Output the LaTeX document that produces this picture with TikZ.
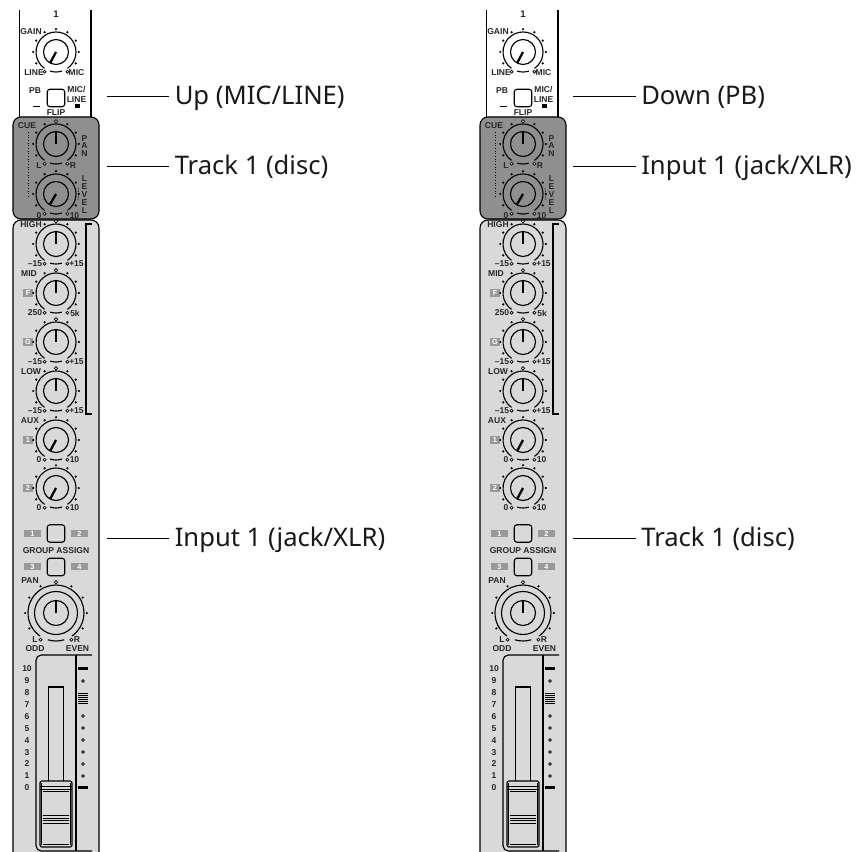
\documentclass[tikz,border=0pt]{standalone}
\usepackage{fontspec}
\setmainfont{Noto Sans}
\newfontfamily\smallfont{Liberation Sans}
\definecolor{panel}{gray}{0.85}
\definecolor{darkpanel}{gray}{0.56}
\definecolor{tagc}{gray}{0.6}
\tikzset{
  lab/.style={font=\smallfont\bfseries\fontsize{6.4}{6.4}\selectfont,inner sep=0pt,text=black!85},
  tag/.style={fill=tagc,minimum width=#1,minimum height=6.5pt,inner sep=0pt,text=white,font=\smallfont\bfseries\fontsize{5.5}{5.5}\selectfont},
  callout/.style={anchor=base west,inner sep=0pt,font=\fontsize{19.2}{19.2}\selectfont,text=black!90},
  wire/.style={line width=0.6pt},
  outl/.style={line width=0.85pt,draw=black},
  btn/.style={draw=black,line width=0.85pt,rounded corners=2.2pt,minimum size=13.2pt,inner sep=0pt,fill=panel}
}
% \knob x y pointer-angle r detent(0/1)
\newcommand{\knob}[5]{%
  \begin{scope}[shift={(#1,#2)},yscale=-1]
    \draw[line width=0.85pt] (0,0) circle[radius=12.5];
    \draw[line width=0.85pt] (-55:#4) arc[start angle=-55,end angle=235,radius=#4];
    \draw[line width=0.85pt] (-107:#4) arc[start angle=-107,end angle=-73,radius=#4];
    \draw[line width=1.7pt] (0,0) -- (#3:12);
    \pgfmathsetmacro{\rt}{#4+2.8}
    \foreach \a in {60,30,0,-30,120,150,180,210} \fill (\a:\rt) circle[radius=1.2];
    \ifnum#5=1 \draw[line width=0.55pt,fill=white] (90:\rt) circle[radius=1.6];
    \else \fill (90:\rt) circle[radius=1.2]; \fi
    \draw[line width=0.55pt,fill=white] (-120:\rt) circle[radius=1.5];
    \draw[line width=0.55pt,fill=white] (-60:\rt) circle[radius=1.5];
  \end{scope}}
\newcommand{\stripat}[2]{%
\begin{scope}[shift={(#1,0)}]
  % panels
  \fill[white] (19.5,10) rectangle (91,118);
  \draw[outl] (19.5,10) -- (19.5,118);
  \draw[outl] (91,10) -- (91,118);
  \fill[panel,rounded corners=6] (13,860) -- (13,220) -- (99,220) -- (99,860) -- cycle;
  \draw[outl,rounded corners=6] (13,860) -- (13,220) -- (99,220) -- (99,860);
  \draw[outl,fill=darkpanel,rounded corners=6] (13,117) rectangle (99,219);
  % top
  \node[lab,font=\smallfont\bfseries\fontsize{7.2}{7.2}\selectfont] (#2n) at (56,14.5) {1};
  \node[lab] (#2gain) at (31,32) {GAIN};
  \knob{56}{52}{242}{20}{0}
  \node[lab] (#2line) at (34,72.5) {LINE};
  \node[lab] (#2mic) at (76.5,72.5) {MIC};
  \node[lab] (#2pb) at (35,91) {PB};
  \node[btn,fill=white] (#2flip) at (56,98) {};
  \node[lab,align=center] (#2ml) at (76.5,94.5) {MIC/\\[1pt]LINE};
  \node[lab] (#2fl) at (56,113) {FLIP};
  \fill (33,106) rectangle (40,107.5);
  \fill (75,104) rectangle (80,108);
  % cue
  \node[lab] (#2cue) at (27,126) {CUE};
  \draw[line width=0.5pt,dash pattern=on 0.8pt off 1.2pt] (28.5,132) -- (28.5,198);
  \knob{56}{144}{90}{20}{1}
  \knob{56}{194}{240}{20}{0}
  \node[lab] (#2l) at (39,166) {L};
  \node[lab] (#2r) at (73,166) {R};
  \node[lab,align=center] (#2pan) at (84.5,146) {P\\[-0.5pt]A\\[-0.5pt]N};
  \node[lab,align=center] (#2lev) at (84.5,194.5) {L\\[-0.5pt]E\\[-0.5pt]V\\[-0.5pt]E\\[-0.5pt]L};
  \draw[line width=0.4pt,dash pattern=on 0.6pt off 0.6pt] (78,188) to[bend left=15] (78,200);
  \node[lab] (#2z) at (39,215.5) {0};
  \node[lab] (#2t) at (74.5,215.5) {10};
  % EQ
  \node[lab] (#2high) at (31,225) {HIGH};
  \knob{56}{244}{90}{20}{1}
  \node[lab] (#2a) at (35,264) {–15};
  \node[lab] (#2b) at (76.5,264) {+15};
  \node[lab] (#2mid) at (29,274) {MID};
  \node[tag=7pt] (#2f) at (28,293) {F};
  \knob{56}{293}{90}{20}{1}
  \node[lab] (#2c) at (35,313) {250};
  \node[lab] (#2d) at (75,313) {5k};
  \node[tag=7pt] (#2g) at (28,342) {G};
  \knob{56}{342}{90}{20}{1}
  \node[lab] (#2e) at (35,362) {–15};
  \node[lab] (#2h) at (76.5,362) {+15};
  \node[lab] (#2low) at (31,372) {LOW};
  \knob{56}{391}{90}{20}{1}
  \node[lab] (#2i) at (35,411) {–15};
  \node[lab] (#2j) at (76.5,411) {+15};
  \draw[outl] (92,224) -- (86,224) -- (86,414) -- (92,414);
  % aux
  \node[lab] (#2aux) at (30,421) {AUX};
  \node[tag=7pt] (#2one) at (28,440) {1};
  \knob{56}{440}{242}{20}{0}
  \node[lab] (#2k) at (39,460) {0};
  \node[lab] (#2m) at (74.5,460) {10};
  \node[tag=7pt] (#2two) at (28,488) {2};
  \knob{56}{488}{242}{20}{0}
  \node[lab] (#2o) at (39,508) {0};
  \node[lab] (#2p) at (74.5,508) {10};
  % group
  \node[btn] (#2ba) at (56,533.5) {};
  \node[btn] (#2bb) at (56,567) {};
  \node[tag=13pt,minimum height=5pt] (#2g1) at (32.5,533.5) {1};
  \node[tag=13pt,minimum height=5pt] (#2g2) at (79.5,533.5) {2};
  \node[tag=13pt,minimum height=5pt] (#2g3) at (32.5,566.5) {3};
  \node[tag=13pt,minimum height=5pt] (#2g4) at (79.5,566.5) {4};
  \node[lab] (#2ga) at (56,551) {GROUP ASSIGN};
  \node[lab] (#2pn) at (30,581) {PAN};
  % big pan
  \begin{scope}[shift={(56,613)}]
    \draw[line width=0.85pt] (0,0) circle[radius=21.5];
  \end{scope}
  \knob{56}{613}{90}{28}{1}
  \node[lab] (#2ll) at (35,640) {L};
  \node[lab] (#2rr) at (77,640) {R};
  \node[lab] (#2odd) at (35,648.5) {ODD};
  \node[lab] (#2even) at (77.5,648.5) {EVEN};
  % fader
  \draw[outl,rounded corners=4] (92,655) -- (36,655) -- (36,851) -- (92,851);
  \draw[outl] (76,655) -- (76,851);
  \foreach \v [count=\i from 0] in {10,9,8,7,6,5,4,3,2,1,0} {
    \node[lab] (#2s\i) at (27,669+\i*11.87) {\v};
  }
  \fill (78,667) rectangle (88,670);
  \fill (78,786) rectangle (88,789);
  \foreach \y in {681,716,728,740,752,764,776} \draw[line width=0.55pt] (83,\y) circle[radius=1.3];
  \foreach \y in {693.5,695.5,697.5,699.5,701.5,703.5} \draw[line width=0.6pt] (78,\y) -- (88,\y);
  \draw[outl] (48.5,781) -- (48.5,687) -- (63.5,687) -- (63.5,781);
  \draw[outl,fill=panel,rounded corners=1.5] (40,781) rectangle (72,847);
  \draw[line width=0.5pt] (41.7,783) -- (41.7,845);
  \draw[line width=0.5pt] (70.3,783) -- (70.3,845);
  \draw[line width=0.9pt] (40,786.5) -- (72,786.5);
  \draw[line width=0.6pt] (40,789) -- (72,789);
  \draw[line width=0.5pt] (43,791.5) -- (69,791.5);
  \foreach \y in {815,818,820.5,823} \draw[line width=0.6pt] (43,\y) -- (69,\y);
  \draw[line width=0.5pt] (43,844.5) -- (69,844.5);
\end{scope}}
\begin{document}
\begin{tikzpicture}[x=0.75pt,y=-0.75pt]
\useasboundingbox (0,0) rectangle (857,852);
\fill[white] (0,0) rectangle (857,852);
\stripat{0}{p}
\stripat{467}{q}
\coordinate (a1) at (106.5,96.7);
\coordinate (a2) at (106.5,166.7);
\coordinate (a3) at (106.5,538);
\coordinate (b1) at (573,96.7);
\coordinate (b2) at (573,166.7);
\coordinate (b3) at (573,538);
\node[callout] (A1) at (174.5,104.5) {Up (MIC/LINE)};
\node[callout] (A2) at (174.5,174.5) {Track 1 (disc)};
\node[callout] (A3) at (174.5,546) {Input 1 (jack/XLR)};
\node[callout] (B1) at (641,104.5) {Down (PB)};
\node[callout] (B2) at (641,174.5) {Input 1 (jack/XLR)};
\node[callout] (B3) at (641,546) {Track 1 (disc)};
\foreach \u/\v in {a1/A1,a2/A2,a3/A3,b1/B1,b2/B2,b3/B3}
  \draw[wire] (\u) -- ([xshift=-4pt]\u -| \v.west);
\end{tikzpicture}
\end{document}
